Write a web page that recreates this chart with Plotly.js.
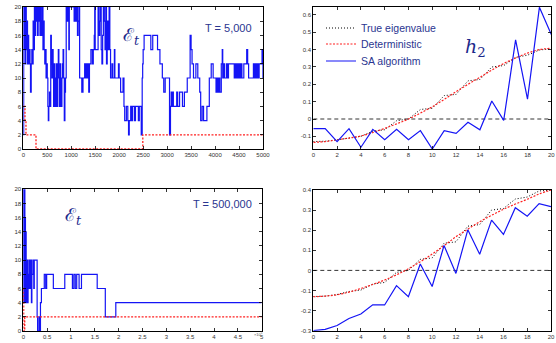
<!DOCTYPE html>
<html>
<head>
<meta charset="utf-8">
<script src="https://cdn.plot.ly/plotly-3.0.1.min.js"></script>
<style>html,body{margin:0;padding:0;background:#fff;}#chart{width:556px;height:343px;}</style>
</head>
<body>
<div id="chart"></div>
<script>
// ---- Top-left: E_t, T = 5,000 ----
const tlX = [0,8,20,30,40,52,62,75,88,100,112,125,140,150,165,178,190,205,218,232,245,258,272,285,298,310,322,335,348,360,372,385,398,410,422,435,448,462,475,490,
  500,512,522,532,545,558,572,585,598,610,622,632,645,658,668,680,692,705,718,730,742,755,768,780,792,805,818,830,842,855,868,880,895,
  920,935,950,960,1060,1080,1100,1115,1130,1145,1160,1175,1220,1245,1280,1300,1310,1330,1350,1365,1380,1410,1440,1460,1480,1490,
  1500,1560,1580,1595,1610,1625,1640,1655,1670,1690,1705,1720,1735,1750,1770,1790,1805,1820,1850,1865,1900,1910,1985,2000,2030,2080,
  2100,2115,2150,2180,2195,2210,2240,2260,2280,2320,2340,2400,2420,2460,2480,2490,2500,2520,
  2660,2700,2800,2850,2900,2930,2960,3050,3070,3085,3100,3115,3130,3200,3220,3260,3320,3360,3420,
  3480,3500,3520,3550,3600,3640,3680,3700,3730,3760,3830,3880,3920,3960,4020,4040,4060,4080,4100,4130,4150,4160,4180,4200,4240,4260,4280,
  4400,4420,4440,4460,4480,4500,4520,4540,4560,4600,4660,4680,4700,4800,4820,4840,4860,4880,4900,4920,4980,5000];
const tlY = [2,20,14,20,12,20,14,18,12,16,12,14,12,8,12,14,12,18,14,20,16,20,18,20,16,20,18,20,16,20,18,16,20,14,18,14,12,14,10,12,
  10,6,4,6,8,6,16,12,10,14,10,6,12,10,6,8,12,6,10,14,10,6,12,8,6,10,12,14,10,4,8,10,20,
  18,20,14,20,18,20,18,20,16,18,20,10,8,10,12,10,12,10,12,8,12,14,12,14,16,20,
  14,20,16,18,20,14,12,16,20,18,14,20,12,18,14,20,14,10,12,10,14,10,12,10,8,10,
  6,4,6,4,2,4,6,4,6,4,6,4,6,2,10,12,14,16,
  14,16,14,12,10,8,10,2,6,8,6,8,6,8,6,8,6,8,10,
  16,14,12,10,12,10,8,4,6,4,6,10,12,10,8,10,8,10,8,12,14,10,12,10,12,10,12,
  10,12,10,12,10,12,10,12,10,12,14,12,10,12,10,12,10,12,10,12,14,10];
const tlDetX = [0,35,56,265,2493,5000];
const tlDetY = [6,4,2,0,2,2];

// ---- Bottom-left: E_t, T = 500,000 (x in units of 1e5) ----
const blX = [0,0.003,0.006,0.009,0.012,0.015,0.018,0.021,0.024,0.027,0.03,0.033,0.036,0.039,0.042,0.045,0.048,0.051,0.055,0.06,0.065,0.07,0.075,0.08,0.09,0.1,0.11,0.12,0.13,0.15,0.17,0.18,0.2,0.22,0.23,0.29,0.3,0.33,0.34,0.36,0.38,0.44,0.47,0.49,0.63,0.87,1.03,1.06,1.09,1.12,1.17,1.22,1.55,1.72,1.94,5];
const blY = [20,4,20,6,18,4,20,8,16,4,20,6,14,4,16,6,12,4,14,6,10,4,8,10,4,8,6,10,6,10,4,8,10,6,10,2,0,2,0,4,6,8,6,8,6,8,6,8,6,8,6,8,6,2,4,4];
const blDetX = [0,0.004,0.008,0.012,0.03,5];
const blDetY = [6,4,2,0,2,2];

// ---- Right panels: h_2 ----
const hX = [0,1,2,3,4,5,6,7,8,9,10,11,12,13,14,15,16,17,18,19,20];
const trTrue = [-0.13,-0.128,-0.12,-0.108,-0.1,-0.07,-0.062,-0.01,0.0,0.055,0.062,0.135,0.142,0.22,0.228,0.3,0.308,0.355,0.368,0.398,0.405];
const trDet  = [-0.135,-0.13,-0.12,-0.11,-0.098,-0.078,-0.054,-0.028,0.0,0.034,0.071,0.113,0.158,0.2,0.24,0.282,0.32,0.352,0.38,0.4,0.408];
const trSA   = [-0.056,-0.056,-0.13,-0.056,-0.163,-0.06,-0.12,-0.06,-0.12,-0.067,-0.173,-0.067,-0.083,-0.019,-0.062,0.104,-0.008,0.456,0.115,0.644,0.487];
const brTrue = [-0.13,-0.128,-0.12,-0.105,-0.098,-0.068,-0.06,-0.01,0.0,0.055,0.062,0.135,0.142,0.22,0.228,0.3,0.308,0.355,0.365,0.395,0.4];
const brDet  = [-0.131,-0.128,-0.121,-0.108,-0.09,-0.07,-0.048,-0.022,0.008,0.043,0.081,0.123,0.167,0.205,0.242,0.274,0.304,0.33,0.354,0.38,0.4];
const brSA   = [-0.3,-0.293,-0.274,-0.239,-0.217,-0.171,-0.172,-0.076,-0.131,0.032,-0.08,0.124,-0.015,0.202,0.08,0.25,0.179,0.312,0.27,0.332,0.317];
const zeroX = [0,20];
const zeroY = [0,0];
const legendNames = ['True eigenvalue', 'Deterministic', 'SA algorithm'];

const BLUE = '#1414f5';
const RED = '#ff2020';
const TXT = '#2a3590';
const MATH = '#1c2a8c';
const REDDASH = '2px,1.5px';

const traces = [
  {x: tlX, y: tlY, xaxis:'x', yaxis:'y', mode:'lines', line:{color:BLUE, width:1.2, shape:'hv'}, showlegend:false},
  {x: tlDetX, y: tlDetY, xaxis:'x', yaxis:'y', mode:'lines', line:{color:RED, width:1.3, dash:REDDASH, shape:'hv'}, showlegend:false},
  {x: blX, y: blY, xaxis:'x3', yaxis:'y3', mode:'lines', line:{color:BLUE, width:1.2, shape:'hv'}, showlegend:false},
  {x: blDetX, y: blDetY, xaxis:'x3', yaxis:'y3', mode:'lines', line:{color:RED, width:1.3, dash:REDDASH, shape:'hv'}, showlegend:false},
  {x: zeroX, y: zeroY, xaxis:'x2', yaxis:'y2', mode:'lines', line:{color:'#000', width:0.8, dash:'4px,3px'}, showlegend:false},
  {x: hX, y: trTrue, xaxis:'x2', yaxis:'y2', mode:'lines', name:legendNames[0], legend:'legend', line:{color:'#000', width:1, dash:'1px,2px'}},
  {x: hX, y: trDet, xaxis:'x2', yaxis:'y2', mode:'lines', name:legendNames[1], legend:'legend2', line:{color:RED, width:1.2, dash:REDDASH, shape:'spline'}},
  {x: hX, y: trSA, xaxis:'x2', yaxis:'y2', mode:'lines', name:legendNames[2], legend:'legend3', line:{color:BLUE, width:1.2}},
  {x: zeroX, y: zeroY, xaxis:'x4', yaxis:'y4', mode:'lines', line:{color:'#000', width:0.8, dash:'4px,3px'}, showlegend:false},
  {x: hX, y: brTrue, xaxis:'x4', yaxis:'y4', mode:'lines', line:{color:'#000', width:1, dash:'1px,2px'}, showlegend:false},
  {x: hX, y: brDet, xaxis:'x4', yaxis:'y4', mode:'lines', line:{color:RED, width:1.2, dash:REDDASH, shape:'spline'}, showlegend:false},
  {x: hX, y: brSA, xaxis:'x4', yaxis:'y4', mode:'lines', line:{color:BLUE, width:1.2}, showlegend:false}
];

function ax(extra){
  return Object.assign({
    showline:true, linecolor:'#000', linewidth:1, mirror:'ticks',
    ticks:'inside', ticklen:3, tickcolor:'#000', tickwidth:0.8,
    showgrid:false, zeroline:false,
    tickfont:{family:'Liberation Sans, Arial, sans-serif', size:6, color:'#333'},
    fixedrange:true
  }, extra);
}

const W = 556, H = 343;
const fx = p => p / W;
const fy = p => 1 - p / H;

function leg(ypx){
  return {x: fx(321), y: fy(ypx), xanchor:'left', yanchor:'middle', bgcolor:'rgba(0,0,0,0)',
    font:{family:'Liberation Sans, Arial, sans-serif', size:10.5, color:TXT}, itemwidth:30};
}

const layout = {
  width: W, height: H,
  margin:{l:0, r:0, t:0, b:0},
  paper_bgcolor:'#fff', plot_bgcolor:'#fff',
  showlegend:true,
  legend: leg(28),
  legend2: leg(44),
  legend3: leg(61),
  xaxis: ax({domain:[fx(23.3), fx(263)], range:[0,5000], dtick:500, anchor:'y'}),
  yaxis: ax({domain:[fy(149), fy(7)], range:[0,20], dtick:2, anchor:'x'}),
  xaxis2: ax({domain:[fx(313.3), fx(551.3)], range:[0,20], dtick:2, anchor:'y2'}),
  yaxis2: ax({domain:[fy(149), fy(7)], range:[-0.173,0.646], tickvals:[-0.1,0,0.1,0.2,0.3,0.4,0.5,0.6], ticktext:['-0.1','0','0.1','0.2','0.3','0.4','0.5','0.6'], anchor:'x2'}),
  xaxis3: ax({domain:[fx(23.3), fx(261.7)], range:[0,5], dtick:0.5, anchor:'y3'}),
  yaxis3: ax({domain:[fy(331), fy(189.3)], range:[0,20], dtick:2, anchor:'x3'}),
  xaxis4: ax({domain:[fx(313.3), fx(551)], range:[0,20], dtick:2, anchor:'y4'}),
  yaxis4: ax({domain:[fy(330.7), fy(190)], range:[-0.3,0.4], tickvals:[-0.3,-0.2,-0.1,0,0.1,0.2,0.3,0.4], ticktext:['-0.3','-0.2','-0.1','0','0.1','0.2','0.3','0.4'], anchor:'x4'}),
  annotations:[
    {xref:'paper', yref:'paper', x:fx(228), y:fy(20), text:'T = 5,000', showarrow:false, font:{family:'Liberation Sans, Arial, sans-serif', size:11, color:TXT}},
    {xref:'paper', yref:'paper', x:fx(222), y:fy(204), text:'T = 500,000', showarrow:false, font:{family:'Liberation Sans, Arial, sans-serif', size:11, color:TXT}},
    {xref:'paper', yref:'paper', x:fx(121), y:fy(22), text:'ℰ<sub><i>t</i></sub>', showarrow:false, font:{family:'DejaVu Serif, serif', size:18, color:MATH}},
    {xref:'paper', yref:'paper', x:fx(63), y:fy(230), text:'ℰ<sub><i>t</i></sub>', showarrow:false, font:{family:'DejaVu Serif, serif', size:18, color:MATH}},
    {xref:'paper', yref:'paper', x:fx(488), y:fy(33), text:'<i>h</i><sub>2</sub>', showarrow:false, font:{family:'DejaVu Serif, serif', size:19, color:MATH}},
    {xref:'paper', yref:'paper', x:fx(258), y:fy(339), text:'×10<sup>5</sup>', showarrow:false, font:{family:'Liberation Sans, Arial, sans-serif', size:4, color:'#555'}}
  ]
};

Plotly.newPlot('chart', traces, layout, {displayModeBar:false, staticPlot:true});
</script>
</body>
</html>
